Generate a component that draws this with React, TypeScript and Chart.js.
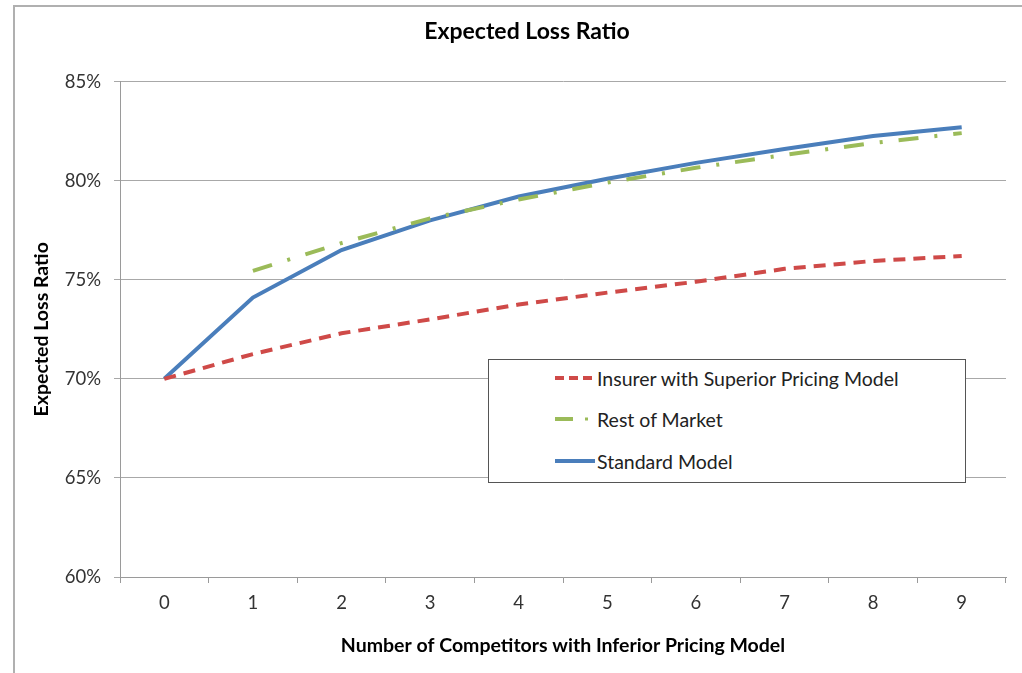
import React, { useEffect, useRef } from "react";
import { Chart, registerables } from "chart.js";

Chart.register(...registerables);

const categories = ["0", "1", "2", "3", "4", "5", "6", "7", "8", "9"];
const insurerSuperior = [70.0, 71.25, 72.3, 73.0, 73.75, 74.35, 74.9, 75.55, 75.95, 76.2];
const restOfMarket = [null, 75.45, 76.85, 78.1, 79.05, 79.9, 80.65, 81.3, 81.9, 82.4];
const standardModel = [70.0, 74.1, 76.5, 78.0, 79.2, 80.1, 80.9, 81.6, 82.25, 82.7];
const seriesNames = ["Insurer with Superior Pricing Model", "Rest of Market", "Standard Model"];
const chartTitle = "Expected Loss Ratio";
const xTitle = "Number of Competitors with Inferior Pricing Model";
const yTitle = "Expected Loss Ratio";

const RED = "#CF4A48";
const GREEN = "#9BBB59";
const BLUE = "#4A7EBB";
const FONT = "Lato, 'Open Sans', sans-serif";

export default function App() {
  const canvasRef = useRef<HTMLCanvasElement | null>(null);

  useEffect(() => {
    const ctx = canvasRef.current;
    if (!ctx) return;
    const chart = new Chart(ctx, {
      type: "line",
      data: {
        labels: categories,
        datasets: [
          {
            label: seriesNames[0],
            data: insurerSuperior,
            borderColor: RED,
            borderWidth: 4,
            borderDash: [12, 8],
            pointRadius: 0,
            tension: 0,
          },
          {
            label: seriesNames[1],
            data: restOfMarket,
            borderColor: GREEN,
            borderWidth: 4,
            borderDash: [20, 16, 3, 16],
            pointRadius: 0,
            tension: 0,
            spanGaps: false,
          },
          {
            label: seriesNames[2],
            data: standardModel,
            borderColor: BLUE,
            borderWidth: 4,
            pointRadius: 0,
            tension: 0,
          },
        ],
      },
      options: {
        animation: false,
        responsive: true,
        maintainAspectRatio: false,
        layout: { padding: { left: 48, right: 16, top: 0, bottom: 0 } },
        plugins: {
          legend: { display: false },
          tooltip: { enabled: false },
          title: {
            display: true,
            text: chartTitle,
            color: "#000",
            font: { family: FONT, size: 23, weight: "bold" },
            padding: { top: 18, bottom: 36 },
          },
        },
        scales: {
          x: {
            type: "category",
            offset: true,
            grid: {
              offset: true,
              drawOnChartArea: false,
              drawTicks: true,
              tickLength: 6,
              color: "#9a9a9a",
            },
            border: { display: true, color: "#9a9a9a", width: 1 },
            ticks: {
              color: "#333",
              font: { family: FONT, size: 18.5 },
              padding: 9,
              maxRotation: 0,
            },
            title: {
              display: true,
              text: xTitle,
              color: "#000",
              font: { family: FONT, size: 19.5, weight: "bold" },
              padding: { top: 0, bottom: 16 },
            },
            afterFit: (scale: any) => {
              scale.height = 96;
            },
          },
          y: {
            min: 60,
            max: 85,
            ticks: {
              stepSize: 5,
              color: "#333",
              font: { family: FONT, size: 18.5 },
              padding: 13,
              callback: (v: any) => v + "%",
            },
            grid: {
              color: "#a8a8a8",
              tickLength: 6,
              drawTicks: true,
            },
            border: { display: true, color: "#9a9a9a", width: 1 },
            title: {
              display: true,
              text: yTitle,
              color: "#000",
              font: { family: FONT, size: 19.5, weight: "bold" },
              padding: { top: -18, bottom: 0 },
            },
            afterFit: (scale: any) => {
              scale.width = 72;
            },
          },
        },
      },
    });
    return () => chart.destroy();
  }, []);

  const legendRow = (name: string, svgLine: React.ReactNode, top: number) => (
    <div
      style={{
        position: "absolute",
        left: 64,
        top,
        height: 24,
        display: "flex",
        alignItems: "center",
        whiteSpace: "nowrap",
      }}
    >
      <svg width={44} height={10} style={{ marginRight: 0 }}>
        {svgLine}
      </svg>
      <span style={{ fontFamily: FONT, fontSize: 19.5, color: "#222" }}>{name}</span>
    </div>
  );

  return (
    <div style={{ position: "fixed", left: 0, top: 0, width: 1022, height: 673, background: "#fff" }}>
      <div
        style={{
          position: "absolute",
          left: 13,
          top: 5,
          right: 0,
          bottom: 0,
          borderLeft: "2px solid #b0b0b0",
          borderTop: "2px solid #b0b0b0",
        }}
      />
      <div style={{ position: "absolute", left: 0, top: 0, width: 1022, height: 673 }}>
        <canvas ref={canvasRef} />
      </div>
      <div
        style={{
          position: "absolute",
          left: 488,
          top: 359,
          width: 476,
          height: 122,
          border: "1.5px solid #555",
          background: "#fff",
        }}
      >
        {legendRow(
          seriesNames[0],
          <line x1={2} y1={5} x2={42} y2={5} stroke={RED} strokeWidth={4} strokeDasharray="9 5" />,
          6
        )}
        {legendRow(
          seriesNames[1],
          <>
            <line x1={2} y1={5} x2={20} y2={5} stroke={GREEN} strokeWidth={4} />
            <line x1={32} y1={5} x2={35} y2={5} stroke={GREEN} strokeWidth={3} />
          </>,
          47
        )}
        {legendRow(
          seriesNames[2],
          <line x1={2} y1={5} x2={42} y2={5} stroke={BLUE} strokeWidth={4} />,
          89
        )}
      </div>
    </div>
  );
}
